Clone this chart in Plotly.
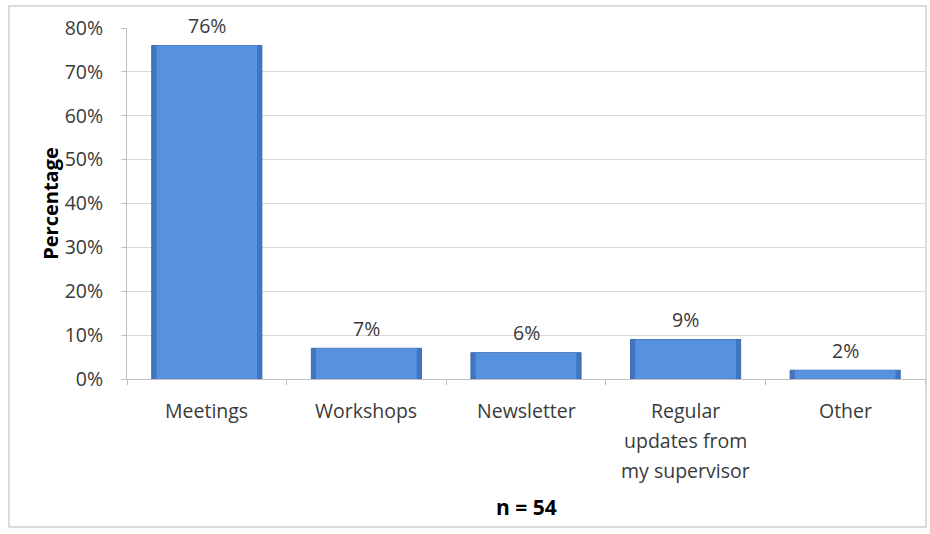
import plotly.graph_objects as go

# Survey responses: preferred way of receiving information
categories = ["Meetings", "Workshops", "Newsletter",
              "Regular\nupdates from\nmy supervisor", "Other"]
percentages = [76, 7, 6, 9, 2]
y_ticks = [0, 10, 20, 30, 40, 50, 60, 70, 80]
sample_note = "n = 54"

FONT = "Open Sans"
TEXT = "#3A3A3A"
GRID = "#D9D9D9"
SIZE = 19.5

W, H = 930, 534
M_L, M_R, M_T, M_B = 127, 5, 28, 155
plot_w = W - M_L - M_R
plot_h = H - M_T - M_B

keys = [c.replace("\n", " ") for c in categories]

fig = go.Figure()
# outer, darker body of each bar (gives the bevelled edges)
fig.add_trace(go.Bar(
    x=keys, y=percentages, width=0.69,
    marker=dict(color="#4376C2", line=dict(color="#3A69AE", width=1)),
    hoverinfo="x+y",
))
# lighter face of each bar
fig.add_trace(go.Bar(
    x=keys, y=percentages, width=0.63,
    marker=dict(color="#5692DD", line=dict(width=0)),
    hoverinfo="skip",
))

# value labels above each bar
for k, v in zip(keys, percentages):
    fig.add_annotation(x=k, y=v, xref="x", yref="y", text=f"{v}%",
                       showarrow=False, yshift=20, yanchor="middle",
                       font=dict(family=FONT, size=SIZE, color=TEXT))

# category labels, one line each with wider line spacing
for k, c in zip(keys, categories):
    for i, line in enumerate(c.split("\n")):
        fig.add_annotation(x=k, y=0, xref="x", yref="y", text=line,
                           showarrow=False, yanchor="middle",
                           yshift=-(31 + 30 * i),
                           font=dict(family=FONT, size=SIZE, color=TEXT))

# sample size note under the axis
fig.add_annotation(x=0.5, y=0, xref="paper", yref="paper", text=f"<b>{sample_note}</b>",
                   showarrow=False, yanchor="middle", yshift=-128,
                   font=dict(family=FONT, size=21, color="#000000"))

# chart frame
fig.add_shape(type="rect", xref="paper", yref="paper",
              x0=(9 - M_L) / plot_w, x1=(926 - M_L) / plot_w,
              y0=(M_T + plot_h - 527) / plot_h, y1=(M_T + plot_h - 6) / plot_h,
              line=dict(color="#CFCFCF", width=1.5), fillcolor="rgba(0,0,0,0)",
              layer="below")

fig.update_layout(
    width=W, height=H,
    margin=dict(l=M_L, r=M_R, t=M_T, b=M_B),
    paper_bgcolor="white", plot_bgcolor="white",
    showlegend=False,
    barmode="overlay",
    font=dict(family=FONT, size=SIZE, color=TEXT),
    xaxis=dict(
        type="category",
        showticklabels=False,
        ticks="outside", tickson="boundaries", ticklen=5, tickcolor="#BFBFBF",
        showline=True, linecolor="#BFBFBF", linewidth=1,
        showgrid=False, fixedrange=True,
    ),
    yaxis=dict(
        range=[0, 80],
        tickvals=y_ticks,
        ticktext=[f"{t}%" for t in y_ticks],
        ticks="outside", ticklen=5, tickcolor="#BFBFBF",
        ticklabelstandoff=14,
        tickfont=dict(family=FONT, size=SIZE, color=TEXT),
        showline=True, linecolor="#BFBFBF", linewidth=1,
        showgrid=True, gridcolor=GRID, gridwidth=1,
        zeroline=False,
        title=dict(text="<b>Percentage</b>", standoff=0,
                   font=dict(family=FONT, size=20, color="#000000")),
        fixedrange=True,
    ),
)

fig.write_html("out.html")
